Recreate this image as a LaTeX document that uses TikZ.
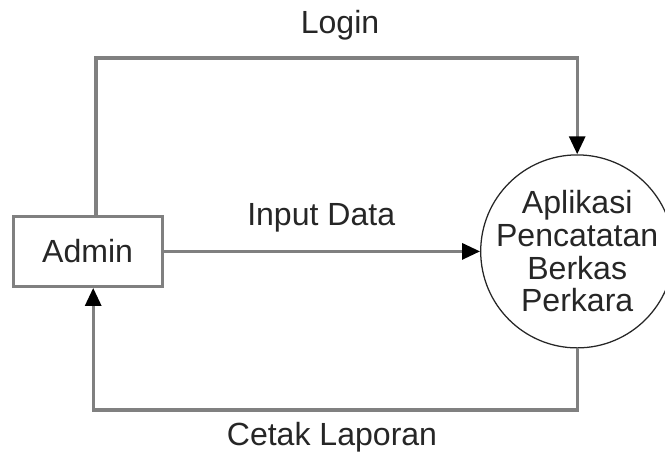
\documentclass[tikz,border=0pt]{standalone}
\usepackage{fontspec}
\setmainfont{Liberation Sans}
\usetikzlibrary{arrows.meta}
\begin{document}
\begin{tikzpicture}[
  flow/.style={draw=black!50,line width=2.2pt,-{Triangle[length=0.45cm,width=0.4cm,color=black]}},
  lbl/.style={text=black!85,font=\fontsize{22.8}{23.2}\selectfont}]
\useasboundingbox (0,0) rectangle (16.625,11.375);
\node[draw=black!50,line width=2.2pt,minimum width=3.725cm,minimum height=1.75cm,lbl] (admin) at (2.19,5.09) {Admin};
\node[draw=black!85,line width=0.9pt,circle,minimum size=4.825cm,inner sep=-0.8cm,align=center,lbl] (app) at (14.43,5.09)
      {Aplikasi\\Pencatatan\\Berkas\\Perkara};
\coordinate (top) at (14.43,9.925);
\coordinate (bot) at (14.43,1.125);
\draw[flow] ([xshift=0.21cm]admin.north) |- (top) -- (app.north);
\draw[flow] (admin.east) -- (app.west);
\draw[flow] (app.south) -- (bot) -| ([xshift=0.14cm]admin.south);
\node[lbl] (login) at (8.5,10.75) {Login};
\node[lbl] (input) at (8.03,5.93) {Input Data};
\node[lbl] (cetak) at (8.3,0.45) {Cetak Laporan};
\end{tikzpicture}
\end{document}
